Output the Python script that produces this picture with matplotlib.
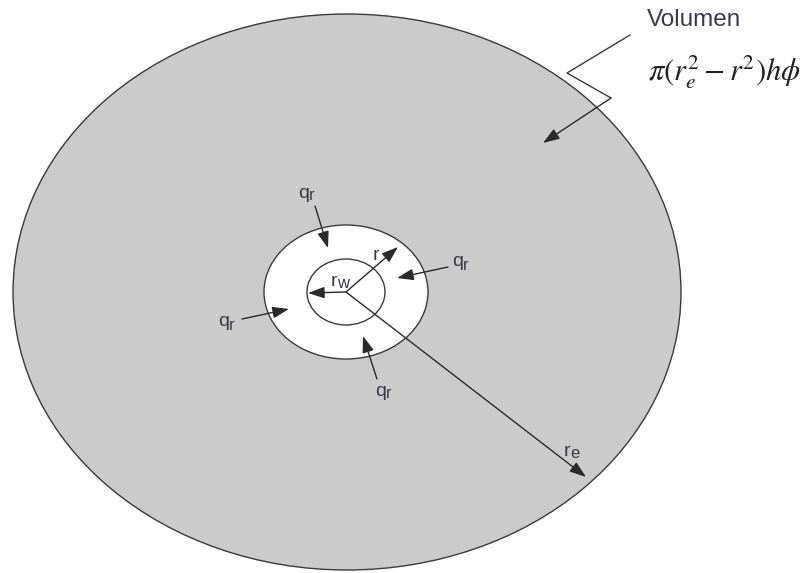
import matplotlib
matplotlib.use('Agg')
import matplotlib.pyplot as plt
from matplotlib.patches import Ellipse, FancyArrowPatch

# geometry of the drawing, in pixel units (y grows downward)
center = (346, 292)
outer_axes = (668, 556)     # full width / height of reservoir boundary
mid_axes = (164, 134)       # radius r
well_axes = (78, 66)        # well radius rw

# radius arrows: tip positions, start from the center
radius_base = ['r', 'r', 'r']
radius_sub = ['w', '', 'e']
radius_tips = [(308, 293), (398, 247), (586, 477)]
radius_label_pos = [(341, 281), (376, 256), (574, 451)]

# flux arrows q_r: (start, tip, label position)
q_starts = [(315, 206), (448, 267), (242, 319), (377, 379)]
q_tips = [(328, 248), (397, 278), (289, 309), (363, 336)]
q_label_pos = [(306, 193), (460, 262), (226, 322), (383, 391)]

# volume annotation
leader_x = [630, 567, 611]
leader_y = [35, 73, 98]
leader_tip = (543, 143)

edge = '#3a3a3a'
txt = '#3a3a4a'
font = 'Liberation Sans'

fig = plt.figure(figsize=(8.06, 5.73), dpi=100)
ax = fig.add_axes([0, 0, 1, 1])
ax.set_xlim(0, 806)
ax.set_ylim(573, 0)
ax.axis('off')

ax.add_patch(Ellipse((347, 292), outer_axes[0], outer_axes[1],
                     facecolor='#cbcbcb', edgecolor=edge, lw=1.0))
ax.add_patch(Ellipse(center, mid_axes[0], mid_axes[1],
                     facecolor='white', edgecolor=edge, lw=1.0))
ax.add_patch(Ellipse(center, well_axes[0], well_axes[1],
                     facecolor='white', edgecolor=edge, lw=1.0))


def arrow(p0, p1):
    ax.add_patch(FancyArrowPatch(p0, p1, arrowstyle='-|>,head_length=1.0,head_width=0.35',
                                 mutation_scale=10, color='#2a2a2a', lw=1.0,
                                 shrinkA=0, shrinkB=0))


def label(x, y, base, sub, shift):
    # base letter to the left of x + shift, subscript right after it
    xm = x + shift
    ax.text(xm, y, base, fontsize=14, color=txt, family=font, ha='right', va='center')
    if sub:
        ax.text(xm, y + 3, sub, fontsize=12, color=txt, family=font, ha='left', va='center')


for tip, b, s, pos in zip(radius_tips, radius_base, radius_sub, radius_label_pos):
    arrow(center, tip)
    label(pos[0], pos[1], b, s, -4 if s else 3)

for s, t, pos in zip(q_starts, q_tips, q_label_pos):
    arrow(s, t)
    label(pos[0], pos[1], 'q', 'r', 3)

ax.plot(leader_x, leader_y, color=edge, lw=1.0)
arrow((leader_x[-1], leader_y[-1]), leader_tip)

ax.text(647, 20, 'Volumen', fontsize=17.5, color=txt, family=font,
        ha='left', va='center')
ax.text(648, 72, '$\\pi(r_e^2-r^2)h\\phi$', fontsize=22, color='#222222',
        math_fontfamily='stix', ha='left', va='center')

fig.savefig('out.png', dpi=100)
